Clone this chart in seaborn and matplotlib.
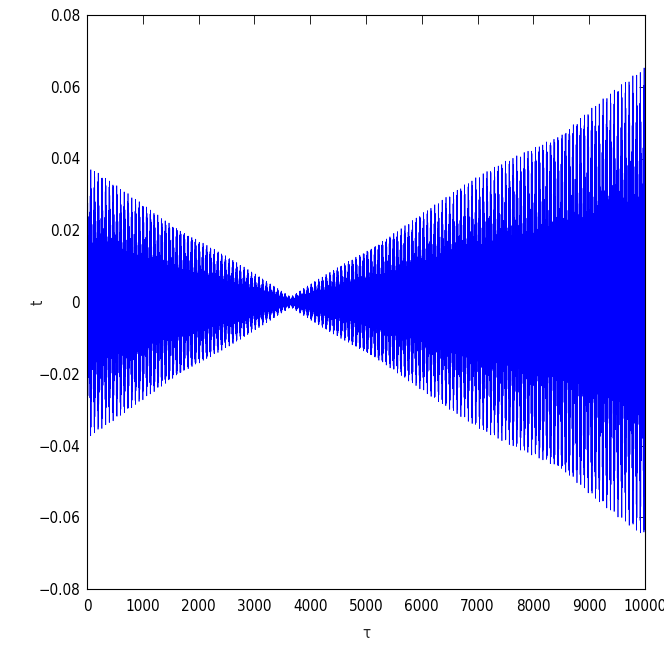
#!/usr/bin/env python3
import numpy as np
import pandas as pd
import matplotlib
matplotlib.use('Agg')
import matplotlib.pyplot as plt
import seaborn as sns
from matplotlib import font_manager as fm
from matplotlib.ticker import FuncFormatter

# envelope of the oscillation (tau, amplitude)
tau_knots = [0, 1000, 2000, 3000, 3650, 4000, 5000, 6000, 7000, 8000, 9000, 10000]
amp_knots = [0.038, 0.028, 0.018, 0.008, 0.0014, 0.005, 0.015, 0.025, 0.035, 0.0445, 0.0555, 0.0655]
beat_period = 67.0      # tau between neighbouring visible peaks
beat_floor = 0.4        # lowest local amplitude relative to the envelope
carrier_period = 2 * np.pi
sample_step = 1

xticks = list(range(0, 10001, 1000))
yticks = [-0.08, -0.06, -0.04, -0.02, 0, 0.02, 0.04, 0.06, 0.08]

tau = np.arange(0, 10001, sample_step)
env = np.interp(tau, tau_knots, amp_knots)
beat = beat_floor + (1 - beat_floor) * 0.5 * (1 + np.cos(2 * np.pi * tau / beat_period))
t = env * beat * np.cos(2 * np.pi * tau / carrier_period)
data = pd.DataFrame({'tau': tau, 't': t})

sns.set_style('white')

# narrow helvetica-like look if a narrow face is there
names = {f.name for f in fm.fontManager.ttflist}
stretch = 'normal'
if 'Liberation Sans Narrow' in names:
    family, fsize = 'Liberation Sans Narrow', 12
elif any(f.name == 'DejaVu Sans' and f.stretch == 'condensed' for f in fm.fontManager.ttflist):
    family, fsize, stretch = 'DejaVu Sans', 11, 'condensed'
else:
    family, fsize = 'Liberation Sans', 10.5
plt.rcParams['font.family'] = [family, 'DejaVu Sans']
plt.rcParams['font.stretch'] = stretch

fig = plt.figure(figsize=(6.64, 6.64), dpi=100)
ax = fig.add_axes([87 / 664, 1 - 589 / 664, 558 / 664, 574 / 664])
sns.lineplot(data=data, x='tau', y='t', color='#0000ff', linewidth=0.5, ax=ax,
             estimator=None, sort=False)

ax.set_xlim(0, 10000)
ax.set_ylim(-0.08, 0.08)
ax.set_xticks(xticks)
ax.set_yticks(yticks)
ax.yaxis.set_major_formatter(FuncFormatter(lambda v, p: f"{v:g}".replace('-', '\u2212')))
ax.set_xlabel('τ', fontsize=fsize)
ax.set_ylabel('t', fontsize=fsize)
ax.xaxis.set_label_coords(0.5, -0.064)
ax.yaxis.set_label_coords(-0.075, 0.5)
ax.tick_params(direction='in', width=0.6, labelsize=fsize, top=True, right=True,
               colors='black')
ax.tick_params(axis='x', length=6.5, pad=7)
ax.tick_params(axis='y', length=4.3, pad=5)
for s in ax.spines.values():
    s.set_visible(True)
    s.set_color('black')
    s.set_linewidth(0.8)

fig.savefig('out.png', dpi=100, facecolor='white')
